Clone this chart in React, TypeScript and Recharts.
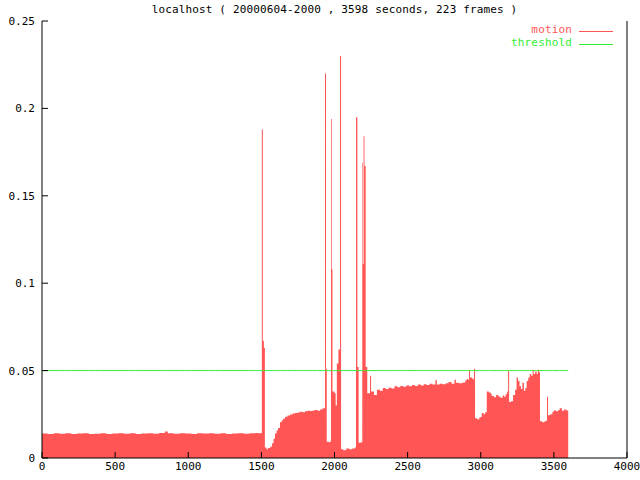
import { ComposedChart, Area, Line, XAxis, YAxis } from "recharts";

// [seconds, motion] pairs, drawn as a step area
const quiet: [number, number][] = [
  [0, 0.014], [40, 0.0138], [80, 0.0141], [120, 0.0139], [160, 0.0142],
  [200, 0.0138], [240, 0.014], [280, 0.0141], [320, 0.0138], [360, 0.0139],
  [400, 0.0142], [440, 0.0137], [480, 0.014], [520, 0.0141], [560, 0.0139],
  [600, 0.0142], [640, 0.0138], [680, 0.014], [720, 0.0141], [760, 0.0139],
  [800, 0.0143], [840, 0.0152], [860, 0.0141], [900, 0.0139], [940, 0.0142],
  [980, 0.014], [1020, 0.0138], [1060, 0.0141], [1100, 0.014], [1140, 0.0142],
  [1180, 0.0139], [1220, 0.0141], [1260, 0.0138], [1300, 0.014], [1340, 0.0142],
  [1380, 0.0139], [1420, 0.0141], [1460, 0.0143], [1480, 0.0142],
];

const firstEvent: [number, number][] = [
  [1503, 0.188], [1510, 0.067], [1517, 0.063], [1524, 0.006], [1535, 0.005],
];

const recovery: [number, number][] = [
  [1545, 0.0057], [1560, 0.0065], [1573, 0.0085], [1583, 0.011], [1593, 0.014],
  [1604, 0.0158], [1614, 0.0172], [1627, 0.0205], [1638, 0.0215], [1648, 0.0225],
  [1662, 0.0236], [1679, 0.0243], [1696, 0.0249], [1713, 0.0254], [1730, 0.0258],
  [1747, 0.0261], [1764, 0.0264], [1781, 0.0262], [1798, 0.0268], [1815, 0.027],
  [1833, 0.0269], [1850, 0.0272], [1867, 0.0274], [1884, 0.0271], [1901, 0.0278],
  [1918, 0.0285],
];

const burst: [number, number][] = [
  [1935, 0.22], [1942, 0.051], [1947, 0.0093], [1960, 0.009], [1970, 0.0095],
  [1976, 0.194], [1981, 0.108], [1986, 0.038], [2000, 0.037], [2008, 0.03],
  [2016, 0.054], [2027, 0.062], [2038, 0.23], [2045, 0.005], [2060, 0.0045],
  [2080, 0.0055], [2100, 0.005], [2120, 0.0055], [2140, 0.006], [2147, 0.195],
  [2156, 0.052], [2165, 0.0087], [2180, 0.009], [2190, 0.169], [2194, 0.111],
  [2199, 0.184], [2205, 0.167], [2213, 0.052], [2224, 0.037], [2243, 0.047],
];

const steady: [number, number][] = [
  [2250, 0.038], [2270, 0.036], [2290, 0.039], [2310, 0.0385], [2330, 0.04],
  [2350, 0.0395], [2370, 0.0402], [2390, 0.0398], [2410, 0.041], [2430, 0.0405],
  [2450, 0.0412], [2470, 0.0408], [2490, 0.0415], [2510, 0.041], [2530, 0.0418],
  [2550, 0.0412], [2570, 0.042], [2590, 0.0415], [2610, 0.0422], [2630, 0.0418],
  [2650, 0.0425], [2670, 0.042], [2690, 0.0445], [2700, 0.042], [2720, 0.0425],
  [2740, 0.0422], [2760, 0.0428], [2780, 0.0435], [2800, 0.0425], [2820, 0.0448],
  [2830, 0.043], [2850, 0.0428], [2875, 0.0432], [2895, 0.0445], [2905, 0.0452],
  [2913, 0.0448], [2920, 0.05], [2927, 0.046], [2940, 0.0455], [2950, 0.0448],
  [2954, 0.051],
];

const late: [number, number][] = [
  [2961, 0.0227], [2975, 0.0222], [2990, 0.0232], [3000, 0.0236], [3007, 0.0257],
  [3020, 0.025], [3030, 0.0262], [3041, 0.038], [3055, 0.0375], [3068, 0.0368],
  [3075, 0.0355], [3090, 0.0348], [3105, 0.036], [3120, 0.0352], [3135, 0.0345],
  [3150, 0.0358], [3160, 0.035], [3170, 0.0365], [3180, 0.038], [3187, 0.05],
  [3194, 0.032], [3207, 0.0325], [3221, 0.036], [3235, 0.039], [3245, 0.046],
  [3255, 0.044], [3265, 0.041], [3275, 0.0395], [3285, 0.043], [3295, 0.0385],
  [3305, 0.04], [3314, 0.044], [3325, 0.046], [3335, 0.048], [3345, 0.047],
  [3355, 0.0505], [3362, 0.048], [3372, 0.0495], [3382, 0.048], [3390, 0.0505],
  [3398, 0.049], [3405, 0.021], [3420, 0.0205], [3435, 0.021], [3448, 0.0215],
  [3453, 0.035], [3460, 0.0245], [3475, 0.025], [3490, 0.0265], [3500, 0.0272],
  [3515, 0.0268], [3530, 0.0275], [3540, 0.0285], [3555, 0.027], [3570, 0.0278],
  [3585, 0.0272], [3598, 0.0272],
];

const threshold = 0.05;
const xTicks = [0, 500, 1000, 1500, 2000, 2500, 3000, 3500, 4000];
const yTicks = [0, 0.05, 0.1, 0.15, 0.2, 0.25];

const title = "localhost ( 20000604-2000 , 3598 seconds, 223 frames )";
const motionColor = "#ff5555";
const thresholdColor = "#33ee33";
const mono = "'DejaVu Sans Mono', monospace";

const rows = [...quiet, ...firstEvent, ...recovery, ...burst, ...steady, ...late].map(
  ([t, v]) => ({ t, motion: v, threshold })
);

const tickFont = { fontFamily: mono, fontSize: 11, fill: "#000" };

function LegendRow({ label, color, top }: { label: string; color: string; top: number }) {
  return (
    <>
      <div
        style={{
          position: "absolute",
          left: 460,
          top,
          width: 112,
          textAlign: "right",
          fontFamily: mono,
          fontSize: 11,
          lineHeight: "10px",
          letterSpacing: "0.15px",
          color,
          whiteSpace: "pre",
        }}
      >
        {label}
      </div>
      <div
        style={{
          position: "absolute",
          left: 579,
          top: top + 6,
          width: 34,
          height: 1,
          background: color,
        }}
      />
    </>
  );
}

export default function App() {
  return (
    <div style={{ position: "absolute", left: 0, top: 0, width: 640, height: 480, background: "#fff" }}>
      <ComposedChart
        width={640}
        height={480}
        data={rows}
        margin={{ top: 21, right: 0, bottom: 0, left: 0 }}
      >
        <XAxis
          xAxisId="bottom"
          dataKey="t"
          type="number"
          domain={[0, 4000]}
          ticks={xTicks}
          allowDataOverflow
          height={22}
          stroke="#000"
          tickSize={-6}
          tickMargin={10}
          tick={tickFont}
        />
        <XAxis
          xAxisId="top"
          orientation="top"
          type="number"
          domain={[0, 4000]}
          ticks={xTicks}
          allowDataOverflow
          height={0}
          stroke="#000"
          tickSize={-6}
          tick={false}
        />
        <YAxis
          yAxisId="left"
          type="number"
          domain={[0, 0.25]}
          ticks={yTicks}
          allowDataOverflow
          width={42}
          stroke="#000"
          tickSize={-6}
          tickMargin={13}
          tick={tickFont}
        />
        <YAxis
          yAxisId="right"
          orientation="right"
          type="number"
          domain={[0, 0.25]}
          ticks={yTicks}
          allowDataOverflow
          width={13}
          stroke="#000"
          tickSize={-6}
          tick={false}
        />
        <Area
          xAxisId="bottom"
          yAxisId="left"
          type="stepAfter"
          dataKey="motion"
          stroke="none"
          fill={motionColor}
          fillOpacity={1}
          baseValue={0}
          isAnimationActive={false}
        />
        <Line
          xAxisId="bottom"
          yAxisId="left"
          type="linear"
          dataKey="threshold"
          stroke={thresholdColor}
          strokeWidth={1}
          dot={false}
          activeDot={false}
          isAnimationActive={false}
        />
      </ComposedChart>
      <div
        style={{
          position: "absolute",
          left: 42,
          width: 585,
          top: 4,
          textAlign: "center",
          fontFamily: mono,
          fontSize: 11,
          lineHeight: "11px",
          letterSpacing: "0.15px",
          color: "#000",
          whiteSpace: "pre",
        }}
      >
        {title}
      </div>
      <LegendRow label="motion" color={motionColor} top={25} />
      <LegendRow label="threshold" color={thresholdColor} top={38} />
    </div>
  );
}
